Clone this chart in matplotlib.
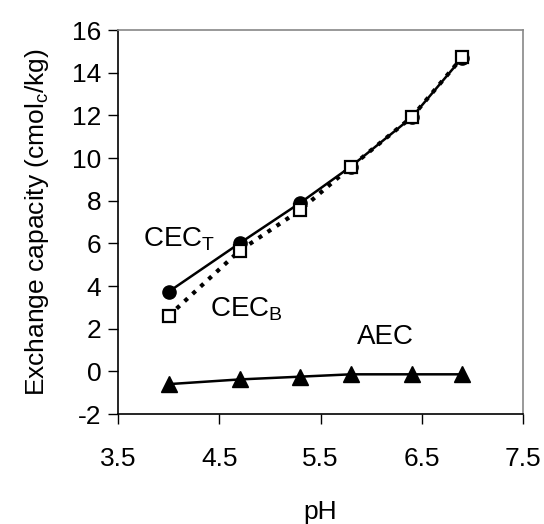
import matplotlib
matplotlib.use("Agg")
import matplotlib.pyplot as plt

plt.rcParams['font.family'] = ['Liberation Sans', 'DejaVu Sans']
plt.rcParams['mathtext.fontset'] = 'custom'
plt.rcParams['mathtext.rm'] = 'Liberation Sans'

ph = [4.0, 4.7, 5.3, 5.8, 6.4, 6.9]
cec_t = [3.73, 6.0, 7.9, 9.6, 11.9, 14.7]
cec_b = [2.6, 5.65, 7.56, 9.59, 11.91, 14.72]
aec = [-0.6, -0.38, -0.25, -0.14, -0.14, -0.14]
xticks = [3.5, 4.5, 5.5, 6.5, 7.5]
yticks = [-2, 0, 2, 4, 6, 8, 10, 12, 14, 16]

fig = plt.figure(figsize=(5.44, 5.24), dpi=100)
W, H = 544, 524
ax = fig.add_axes([118 / W, 1 - 414 / H, (523 - 118) / W, (414 - 30) / H])

ax.plot(ph, cec_t, '-', color='black', lw=1.8, marker='o', ms=9.5, mfc='black', mec='black', zorder=3)
ax.plot(ph, cec_b, linestyle=(0, (1, 1.6)), color='black', lw=3, marker='s', ms=8.5,
        mfc='white', mec='black', mew=1.6, zorder=4)
ax.plot(ph, aec, '-', color='black', lw=1.8, marker='^', ms=11, mfc='black', mec='black', zorder=3)

ax.set_xlim(3.5, 7.5)
ax.set_ylim(-2, 16)
ax.set_xticks(xticks)
ax.set_xticklabels([f"{v:.1f}" for v in xticks])
ax.set_yticks(yticks)
ax.set_yticklabels([str(v) for v in yticks])
ax.tick_params(direction='out', length=7, width=1, labelsize=19)
ax.tick_params(axis='x', pad=17)
ax.tick_params(axis='y', pad=5)

for s in ['top', 'right']:
    ax.spines[s].set_color('#888888')
    ax.spines[s].set_linewidth(1.2)
for s in ['left', 'bottom']:
    ax.spines[s].set_color('black')
    ax.spines[s].set_linewidth(1.2)

ax.set_xlabel('pH', fontsize=19, labelpad=21)
ax.set_ylabel('Exchange capacity (cmol$_\\mathregular{c}$/kg)', fontsize=19, labelpad=15)

ax.text(3.747, 5.87, 'CEC$_\\mathregular{T}$', fontsize=20, ha='left', va='baseline')
ax.text(4.409, 2.59, 'CEC$_\\mathregular{B}$', fontsize=20, ha='left', va='baseline')
ax.text(5.857, 1.27, 'AEC', fontsize=20, ha='left', va='baseline')

fig.savefig('out.png', dpi=100)
